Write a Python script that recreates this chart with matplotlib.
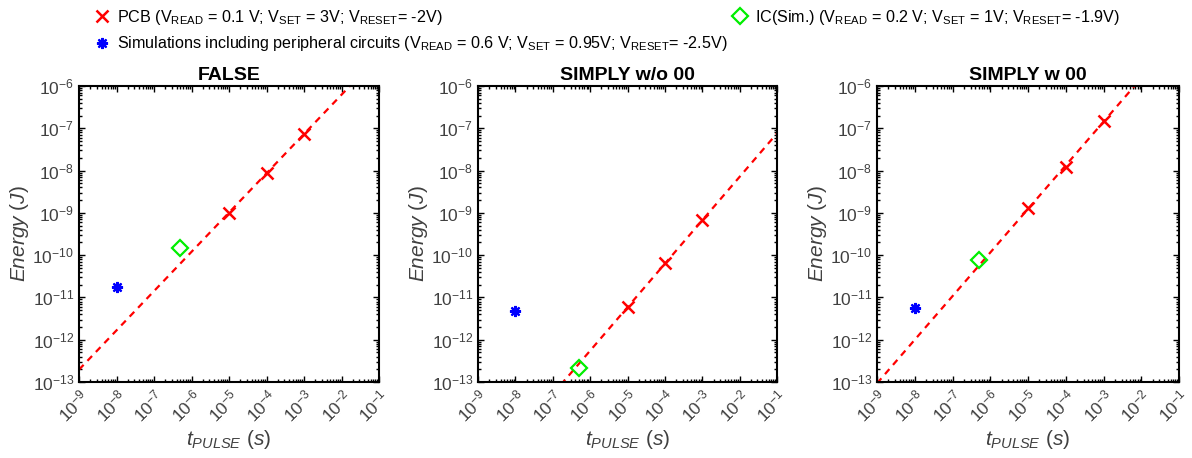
import numpy as np
import matplotlib
matplotlib.use("Agg")
import matplotlib.pyplot as plt
from matplotlib.ticker import LogLocator, LogFormatterSciNotation, NullFormatter

plt.rcParams['font.family'] = ['Liberation Sans', 'DejaVu Sans']
plt.rcParams['mathtext.fontset'] = 'custom'
plt.rcParams['mathtext.rm'] = 'Liberation Sans'
plt.rcParams['mathtext.it'] = 'Liberation Sans:italic'
plt.rcParams['mathtext.bf'] = 'Liberation Sans:bold'
plt.rcParams['mathtext.sf'] = 'Liberation Sans'
plt.rcParams['axes.unicode_minus'] = False

# data
titles = ['FALSE', 'SIMPLY w/o 00', 'SIMPLY w 00']
pcb_t = [1e-5, 1e-4, 1e-3]
pcb_e = [
    [1.0e-9, 8.9e-9, 7.2e-8],
    [5.8e-12, 6.4e-11, 6.6e-10],
    [1.3e-9, 1.2e-8, 1.5e-7],
]
ic_t = 5e-7
ic_e = [1.45e-10, 2.2e-13, 7.6e-11]
sim_t = 1e-8
sim_e = [1.8e-11, 4.8e-12, 5.6e-12]

legend_labels = [
    r'PCB (V$_{\mathrm{READ}}$ = 0.1 V; V$_{\mathrm{SET}}$ = 3V; V$_{\mathrm{RESET}}$= -2V)',
    r'Simulations including peripheral circuits (V$_{\mathrm{READ}}$ = 0.6 V; V$_{\mathrm{SET}}$ = 0.95V; V$_{\mathrm{RESET}}$= -2.5V)',
    r'IC(Sim.) (V$_{\mathrm{READ}}$ = 0.2 V; V$_{\mathrm{SET}}$ = 1V; V$_{\mathrm{RESET}}$= -1.9V)',
]

W, H = 1192, 458
fig = plt.figure(figsize=(W / 100, H / 100), dpi=100)

lefts = [79, 478, 877]
widths = [300, 299, 302]
gray = '#404040'

handles = []
for i in range(3):
    ax = fig.add_axes([lefts[i] / W, 1 - 382 / H, widths[i] / W, 296 / H])

    # power-law fit of the PCB points, drawn across the whole axis
    p = np.polyfit(np.log10(pcb_t), np.log10(pcb_e[i]), 1)
    xf = np.logspace(-9, -1, 200)
    ax.plot(xf, 10 ** np.polyval(p, np.log10(xf)), '--', color='#ff0000',
            lw=1.6, dashes=(3, 2.5))

    h1, = ax.plot(pcb_t, pcb_e[i], 'x', color='#ff0000', ms=9, mew=1.8, ls='none')
    h2, = ax.plot([sim_t], [sim_e[i]], marker=(8, 2, 0), color='#0000ff', ms=8,
                  mew=1.6, ls='none')
    h3, = ax.plot([ic_t], [ic_e[i]], 'D', mfc='none', mec='#00ee00', ms=8, mew=1.6,
                  ls='none')
    if i == 0:
        handles = [h1, h2, h3]

    ax.set_xscale('log')
    ax.set_yscale('log')
    ax.set_xlim(1e-9, 1e-1)
    ax.set_ylim(1e-13, 1e-6)
    ax.xaxis.set_major_locator(LogLocator(base=10, numticks=20))
    ax.yaxis.set_major_locator(LogLocator(base=10, numticks=20))
    ax.xaxis.set_minor_locator(LogLocator(base=10, subs=np.arange(2, 10), numticks=20))
    ax.yaxis.set_minor_locator(LogLocator(base=10, subs=np.arange(2, 10), numticks=20))
    ax.xaxis.set_minor_formatter(NullFormatter())
    ax.yaxis.set_minor_formatter(NullFormatter())
    ax.xaxis.set_major_formatter(LogFormatterSciNotation())
    ax.tick_params(which='both', direction='in', top=True, right=True, colors='black',
                   labelcolor=gray, labelsize=12.5, width=1)
    ax.tick_params(which='major', length=4)
    ax.tick_params(which='minor', length=2)
    for lab in ax.get_xticklabels():
        lab.set_rotation(45)
        lab.set_ha('right')
        lab.set_va('top')
        lab.set_rotation_mode('anchor')
    for s in ax.spines.values():
        s.set_linewidth(1.5)

    ax.set_title(titles[i], fontsize=14, fontweight='bold', pad=4)
    ax.set_ylabel('$Energy$ $(J)$', fontsize=15, color=gray, labelpad=1)
    ax.set_xlabel('$t_{PULSE}$ $(s)$', fontsize=15, color=gray, labelpad=2)

fig.legend(handles, legend_labels, loc='upper left', bbox_to_anchor=(86 / W, 1.0),
           ncol=2, frameon=False, fontsize=11.6, handlelength=1.0, handletextpad=0.4,
           columnspacing=0.3, labelspacing=0.45, borderaxespad=0.1)

fig.savefig('out.png', dpi=100)
